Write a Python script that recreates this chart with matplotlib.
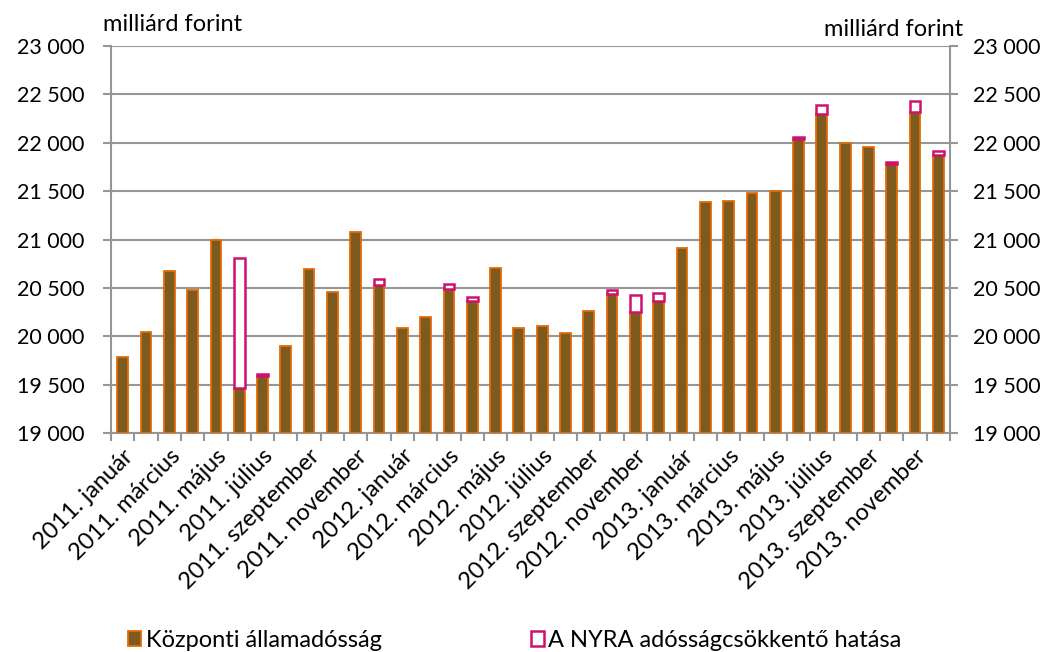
import matplotlib.pyplot as plt
import matplotlib.patches as mpatches
import numpy as np

plt.rcParams['font.family'] = ['Lato', 'DejaVu Sans']

# Monthly data, 2011 January - 2013 December (milliárd forint)
months = ['január', 'február', 'március', 'április', 'május', 'június',
          'július', 'augusztus', 'szeptember', 'október', 'november', 'december']
years = [2011, 2012, 2013]
labels = [f'{y}. {m}' for y in years for m in months]

debt = [19789, 20047, 20678, 20475, 20995, 19462, 19589, 19903, 20695, 20454, 21074, 20527,
        20082, 20196, 20485, 20361, 20709, 20088, 20106, 20037, 20258, 20437, 20248, 20364,
        20909, 21384, 21401, 21484, 21501, 22036, 22297, 21994, 21956, 21780, 22314, 21873]
nyra = [0, 0, 0, 0, 0, 1350, 20, 0, 0, 0, 0, 65,
        0, 0, 50, 45, 0, 0, 0, 0, 0, 40, 180, 80,
        0, 0, 0, 0, 0, 27, 90, 0, 0, 25, 120, 45]

brown = '#7f5a1f'
orange = '#e36c09'
pink = '#d0106e'
grey = '#969696'

fig = plt.figure(figsize=(10.5, 6.52), dpi=100)
ax = fig.add_axes([0.1057, 0.3359, 0.7991, 0.5935])

x = np.arange(len(debt))
w = 0.46
ax.bar(x, np.array(debt) - 19000, bottom=19000, width=w, color=brown,
       edgecolor=orange, linewidth=1.3, zorder=3)
nyra = np.array(nyra)
mask = nyra > 0
ax.bar(x[mask], nyra[mask], bottom=np.array(debt)[mask], width=w, facecolor='white',
       edgecolor=pink, linewidth=1.8, zorder=4)

ax.set_xlim(-0.5, len(debt) - 0.5)
ax.set_ylim(19000, 23000)
yt = np.arange(19000, 23001, 500)
ax.set_yticks(yt)
fmt = [f'{v:,}'.replace(',', ' ') for v in yt]
ax.set_yticklabels(fmt, fontsize=15.5)
ax.grid(axis='y', color=grey, linewidth=1.5, zorder=0)
ax.set_axisbelow(True)

ax.set_xticks(x[::2])
ax.set_xticklabels(labels[::2], rotation=45, ha='right', rotation_mode='anchor', fontsize=17)
ax.set_xticks(np.arange(-0.5, len(debt), 1), minor=True)
ax.tick_params(axis='x', which='major', length=0, pad=9)
ax.tick_params(axis='x', which='minor', length=5.8, color=grey, width=1.5)
ax.tick_params(axis='y', length=5.8, color=grey, width=1.5, pad=13)

for s in ax.spines.values():
    s.set_color(grey)
    s.set_linewidth(1.5)
ax.spines['top'].set_visible(False)

ax2 = ax.twinx()
ax2.set_ylim(ax.get_ylim())
ax2.set_yticks(yt)
ax2.set_yticklabels(fmt, fontsize=15.5)
ax2.tick_params(axis='y', length=5.8, color=grey, width=1.5, pad=11)
for s in ax2.spines.values():
    s.set_visible(False)

fig.text(0.098, 0.962, 'milliárd forint', fontsize=17, va='center', ha='left')
fig.text(0.917, 0.954, 'milliárd forint', fontsize=17, va='center', ha='right')

h1 = mpatches.Patch(facecolor=brown, edgecolor=orange, linewidth=1.3)
h2 = mpatches.Patch(facecolor='white', edgecolor=pink, linewidth=1.8)
fig.legend([h1, h2], ['Központi államadósság', 'A NYRA adósságcsökkentő hatása'],
           loc='center left', bbox_to_anchor=(0.113, 0.018), ncol=2, frameon=False,
           fontsize=17, handlelength=0.55, handleheight=0.55, handletextpad=0.2,
           columnspacing=6.3, borderaxespad=0)

fig.savefig('out.png', dpi=100)
